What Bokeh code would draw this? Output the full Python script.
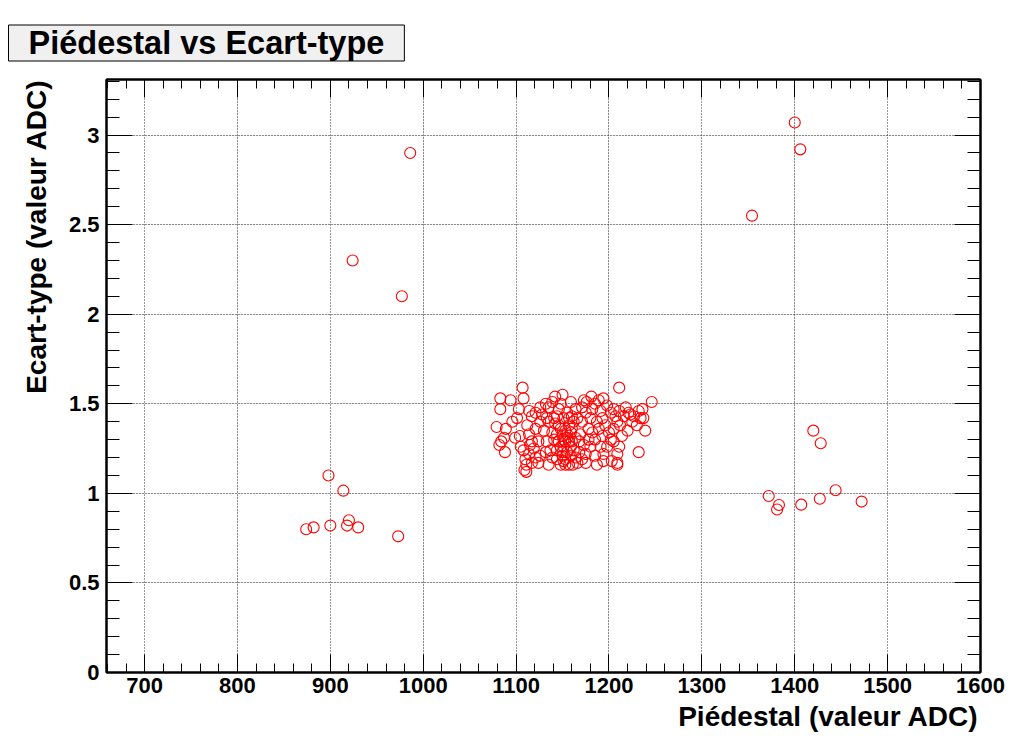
from bokeh.plotting import figure
from bokeh.models import (LinearAxis, SingleIntervalTicker, Range1d,
                          Title, Grid)
from bokeh.embed import file_html
from bokeh.resources import INLINE

# ---- data ----
piedestal = [
    986, 924, 977, 898, 914, 874, 882, 900, 920, 918, 930, 973,
    1400, 1406, 1354, 1420, 1428, 1372, 1383, 1381, 1407, 1427, 1444, 1472,
    1107, 1211, 1083, 1094, 1108, 1246, 1083, 1103, 1079, 1089, 1087, 1084,
    1082, 1088, 1096, 1104, 1105, 1110, 1111, 1109, 1111, 1114, 1117, 1121,
    1124, 1124, 1114, 1135, 1142, 1150, 1159, 1146, 1155, 1135, 1139, 1132,
    1135, 1144, 1153, 1151, 1157, 1150, 1160, 1148, 1155, 1164, 1166, 1175,
    1173, 1169, 1166, 1175, 1181, 1185, 1194, 1182, 1191, 1187, 1178, 1185,
    1193, 1191, 1185, 1187, 1194, 1205, 1209, 1212, 1205, 1211, 1209, 1209,
    1209, 1218, 1223, 1232, 1234, 1237, 1239, 1232, 1225, 1216, 1202, 1198,
    1159, 1162, 1142, 1144, 1128, 1126, 1130, 1117, 1119, 1121, 1126, 1133,
    1141, 1144, 1153, 1159, 1150, 1157, 1161, 1168, 1168, 1164, 1155, 1153,
    1148, 1146, 1160, 1171, 1176, 1189, 1180, 1171, 1178, 1180, 1196, 1200,
    1202, 1198, 1203, 1214, 1220, 1221, 1227, 1211, 1193, 1137, 1139, 1148,
    1151, 1141, 1133, 1126, 1121, 1112, 1114, 1115, 1108, 1117, 1151, 1157,
    1151, 1146, 1155, 1160, 1150, 1159, 1162, 1153, 1144, 1157, 1148, 1139,
    1132, 1164, 1173, 1189, 1182, 1175, 1171, 1194, 1099, 1101, 1230, 1236,
    1207, 1205,
]
ecart = [
    2.90, 2.30, 2.10, 1.10, 1.015, 0.80, 0.81, 0.82, 0.85, 0.82, 0.81, 0.76,
    3.07, 2.92, 2.55, 1.35, 1.28, 0.985, 0.935, 0.91, 0.937, 0.97, 1.017, 0.954,
    1.59, 1.59, 1.53, 1.52, 1.53, 1.51, 1.47, 1.47, 1.37, 1.36, 1.31, 1.29,
    1.27, 1.23, 1.40, 1.32, 1.26, 1.19, 1.16, 1.13, 1.12, 1.22, 1.43, 1.36,
    1.29, 1.17, 1.46, 1.48, 1.54, 1.55, 1.51, 1.47, 1.45, 1.40, 1.34, 1.23,
    1.16, 1.19, 1.16, 1.42, 1.38, 1.32, 1.29, 1.26, 1.23, 1.20, 1.17, 1.22,
    1.27, 1.33, 1.42, 1.45, 1.54, 1.50, 1.53, 1.47, 1.46, 1.40, 1.36, 1.30,
    1.32, 1.26, 1.21, 1.16, 1.22, 1.47, 1.40, 1.38, 1.29, 1.26, 1.22, 1.17,
    1.16, 1.48, 1.44, 1.46, 1.42, 1.42, 1.35, 1.23, 1.40, 1.43, 1.45, 1.49,
    1.34, 1.40, 1.39, 1.43, 1.44, 1.40, 1.35, 1.29, 1.25, 1.20, 1.21, 1.29,
    1.30, 1.24, 1.29, 1.26, 1.21, 1.16, 1.16, 1.23, 1.29, 1.31, 1.31, 1.35,
    1.36, 1.38, 1.43, 1.48, 1.51, 1.52, 1.42, 1.40, 1.30, 1.26, 1.38, 1.34,
    1.30, 1.26, 1.18, 1.32, 1.35, 1.45, 1.43, 1.46, 1.42, 1.24, 1.20, 1.16,
    1.18, 1.42, 1.42, 1.48, 1.45, 1.38, 1.33, 1.27, 1.24, 1.17, 1.26, 1.29,
    1.30, 1.29, 1.33, 1.36, 1.23, 1.21, 1.24, 1.19, 1.33, 1.42, 1.50, 1.51,
    1.50, 1.47, 1.52, 1.36, 1.34, 1.17, 1.19, 1.18, 1.31, 1.42, 1.38, 1.47,
    1.43, 1.36,
]

title_text = "Piédestal vs Ecart-type"
x_title = "Piédestal (valeur ADC)"
y_title = "Ecart-type (valeur ADC)"

FONT = "Liberation Sans"
X0, X1 = 659, 1600
Y0, Y1 = 0, 3.31

p = figure(width=1015, height=738, output_backend="svg", toolbar_location=None,
           x_range=Range1d(X0, X1), y_range=Range1d(Y0, Y1),
           x_axis_location=None, y_axis_location=None,
           min_border_left=106, min_border_right=35,
           min_border_top=79, min_border_bottom=66)
p.background_fill_color = "white"
p.border_fill_color = "white"
p.outline_line_color = "black"
p.outline_line_width = 2


def make_axis(kind, loc, labels):
    if kind == "x":
        ticker = SingleIntervalTicker(interval=100, num_minor_ticks=5)
        maj, mnr = 18, 9
    else:
        ticker = SingleIntervalTicker(interval=0.5, num_minor_ticks=5)
        maj, mnr = 26, 13
    ax = LinearAxis(ticker=ticker)
    ax.major_tick_in = maj
    ax.major_tick_out = 0
    ax.minor_tick_in = mnr
    ax.minor_tick_out = 0
    ax.axis_line_color = "black"
    ax.axis_line_width = 2
    ax.major_tick_line_color = "black"
    ax.major_tick_line_width = 1
    ax.minor_tick_line_color = "black"
    ax.minor_tick_line_width = 1
    if labels:
        ax.major_label_text_font = FONT
        ax.major_label_text_font_style = "bold"
        ax.major_label_text_font_size = "22px"
        ax.major_label_text_color = "black"
        ax.major_label_standoff = 5 if kind == "x" else 7
    else:
        ax.major_label_text_font_size = "1px"
        ax.major_label_text_color = None
        ax.major_label_standoff = 0
    p.add_layout(ax, loc)
    return ax


bx = make_axis("x", "below", True)
make_axis("x", "above", False)
ly = make_axis("y", "left", True)
make_axis("y", "right", False)

# title box
p.add_layout(Title(text=title_text, align="left", offset=-98, standoff=37,
                   text_font=FONT, text_font_style="bold",
                   text_font_size="32.5px", text_color="black",
                   background_fill_color="#f0f0f0", border_line_color="black",
                   border_line_width=1,
                   padding=dict(left=20, right=20, top=0, bottom=0)), "above")

p.add_layout(Title(text=x_title, align="right", standoff=7, offset=2,
                   text_font=FONT, text_font_style="bold",
                   text_font_size="28px", text_color="black"), "below")
p.add_layout(Title(text=y_title, align="right", standoff=28,
                   text_font=FONT, text_font_style="bold",
                   text_font_size="28px", text_color="black"), "left")

p.add_layout(Grid(dimension=0, ticker=bx.ticker, grid_line_color="#333333",
                  grid_line_dash="1 2", grid_line_width=1))
p.add_layout(Grid(dimension=1, ticker=ly.ticker, grid_line_color="#333333",
                  grid_line_dash="1 2", grid_line_width=1))

p.scatter(piedestal, ecart, marker="circle", size=11, fill_color=None,
          line_color="red", line_width=1.1)

open("out.html", "w").write(file_html(p, INLINE))
